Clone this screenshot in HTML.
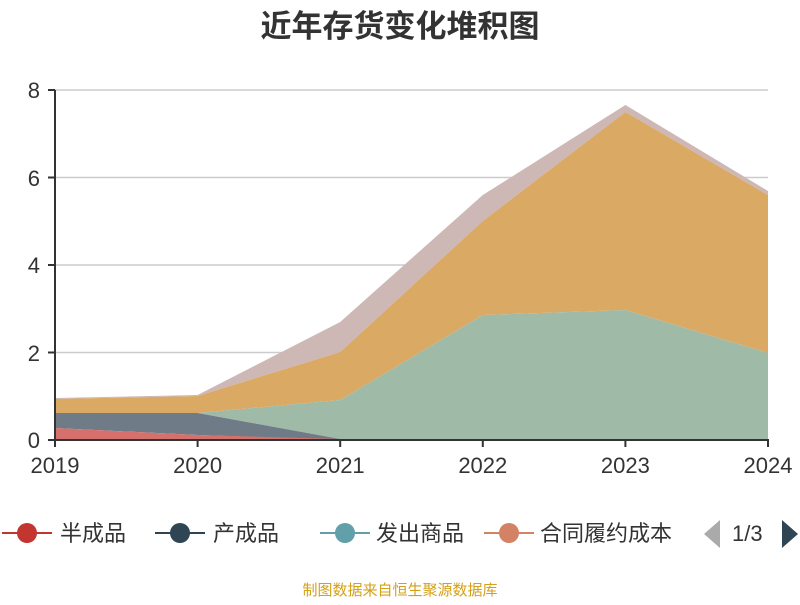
<!DOCTYPE html>
<html><head><meta charset="utf-8"><style>
body{margin:0;width:800px;height:600px;background:#fff;overflow:hidden;font-family:"Liberation Sans","Noto Sans CJK SC",sans-serif}
</style></head><body>
<svg width="800" height="600" xmlns="http://www.w3.org/2000/svg" style="font-family:'Liberation Sans','Noto Sans CJK SC',sans-serif">
<text x="400" y="37" text-anchor="middle" font-size="31" font-weight="bold" fill="#333">近年存货变化堆积图</text>
<text transform="translate(-2,115) rotate(-90)" text-anchor="middle" font-size="14" fill="#f33">单位</text>
<g stroke="#ccc" stroke-width="1.5">
<line x1="55" y1="90" x2="768" y2="90"/><line x1="55" y1="177.5" x2="768" y2="177.5"/><line x1="55" y1="265" x2="768" y2="265"/><line x1="55" y1="352.5" x2="768" y2="352.5"/>
</g>
<polygon fill="#cdb8b6" points="55,398 197.6,395 340.2,322 482.8,195 625.4,105 768,191 768,195 625.4,112 482.8,221 340.2,352 197.6,396 55,399"/>
<polygon fill="#daa964" points="55,399 197.6,396 340.2,352 482.8,221 625.4,112 768,195 768,353 625.4,310 482.8,315 340.2,400 197.6,413 55,413"/>
<polygon fill="#9fbba8" points="55,413 197.6,413 340.2,400 482.8,315 625.4,310 768,353 768,440 340.2,439 197.6,413"/>
<polygon fill="#6f7c87" points="55,413 197.6,413 340.2,439 340.2,440 197.6,435 55,428"/>
<polygon fill="#d6706c" points="55,428 197.6,435 340.2,439 340.2,440 55,440"/>
<g stroke="#333" stroke-width="2" fill="none">
<line x1="55" y1="90" x2="55" y2="441"/><line x1="54" y1="440" x2="769" y2="440"/>
<line x1="48" y1="90" x2="55" y2="90"/><line x1="48" y1="177.5" x2="55" y2="177.5"/><line x1="48" y1="265" x2="55" y2="265"/><line x1="48" y1="352.5" x2="55" y2="352.5"/><line x1="48" y1="440" x2="55" y2="440"/>
<line x1="55" y1="440" x2="55" y2="447"/><line x1="197.6" y1="440" x2="197.6" y2="447"/><line x1="340.2" y1="440" x2="340.2" y2="447"/><line x1="482.8" y1="440" x2="482.8" y2="447"/><line x1="625.4" y1="440" x2="625.4" y2="447"/><line x1="768" y1="440" x2="768" y2="447"/>
</g>
<g font-size="22" fill="#333" text-anchor="end">
<text x="40" y="98">8</text><text x="40" y="186">6</text><text x="40" y="273">4</text><text x="40" y="361">2</text><text x="40" y="448">0</text>
</g>
<g font-size="22" fill="#333" text-anchor="middle">
<text x="55" y="473">2019</text><text x="197.6" y="473">2020</text><text x="340.2" y="473">2021</text><text x="482.8" y="473">2022</text><text x="625.4" y="473">2023</text><text x="768" y="473">2024</text>
</g>
<g font-size="22" fill="#333">
<line x1="2" y1="533" x2="52" y2="533" stroke="#c23531" stroke-width="2"/><circle cx="27" cy="533" r="10" fill="#c23531"/><text x="60" y="541">半成品</text>
<line x1="155" y1="533" x2="205" y2="533" stroke="#2f4554" stroke-width="2"/><circle cx="180" cy="533" r="10" fill="#2f4554"/><text x="213" y="541">产成品</text>
<line x1="320" y1="533" x2="370" y2="533" stroke="#61a0a8" stroke-width="2"/><circle cx="345" cy="533" r="10" fill="#61a0a8"/><text x="376" y="541">发出商品</text>
<line x1="484" y1="533" x2="534" y2="533" stroke="#d48265" stroke-width="2"/><circle cx="509" cy="533" r="10" fill="#d48265"/><text x="540" y="541">合同履约成本</text>
<polygon points="720,520 720,548 704,534" fill="#aaa"/>
<text x="732" y="541">1/3</text>
<polygon points="782,520 782,548 798,534" fill="#2f4554"/>
</g>
<text x="400" y="595" text-anchor="middle" font-size="15" fill="#d4a017">制图数据来自恒生聚源数据库</text>
</svg>
</body></html>
